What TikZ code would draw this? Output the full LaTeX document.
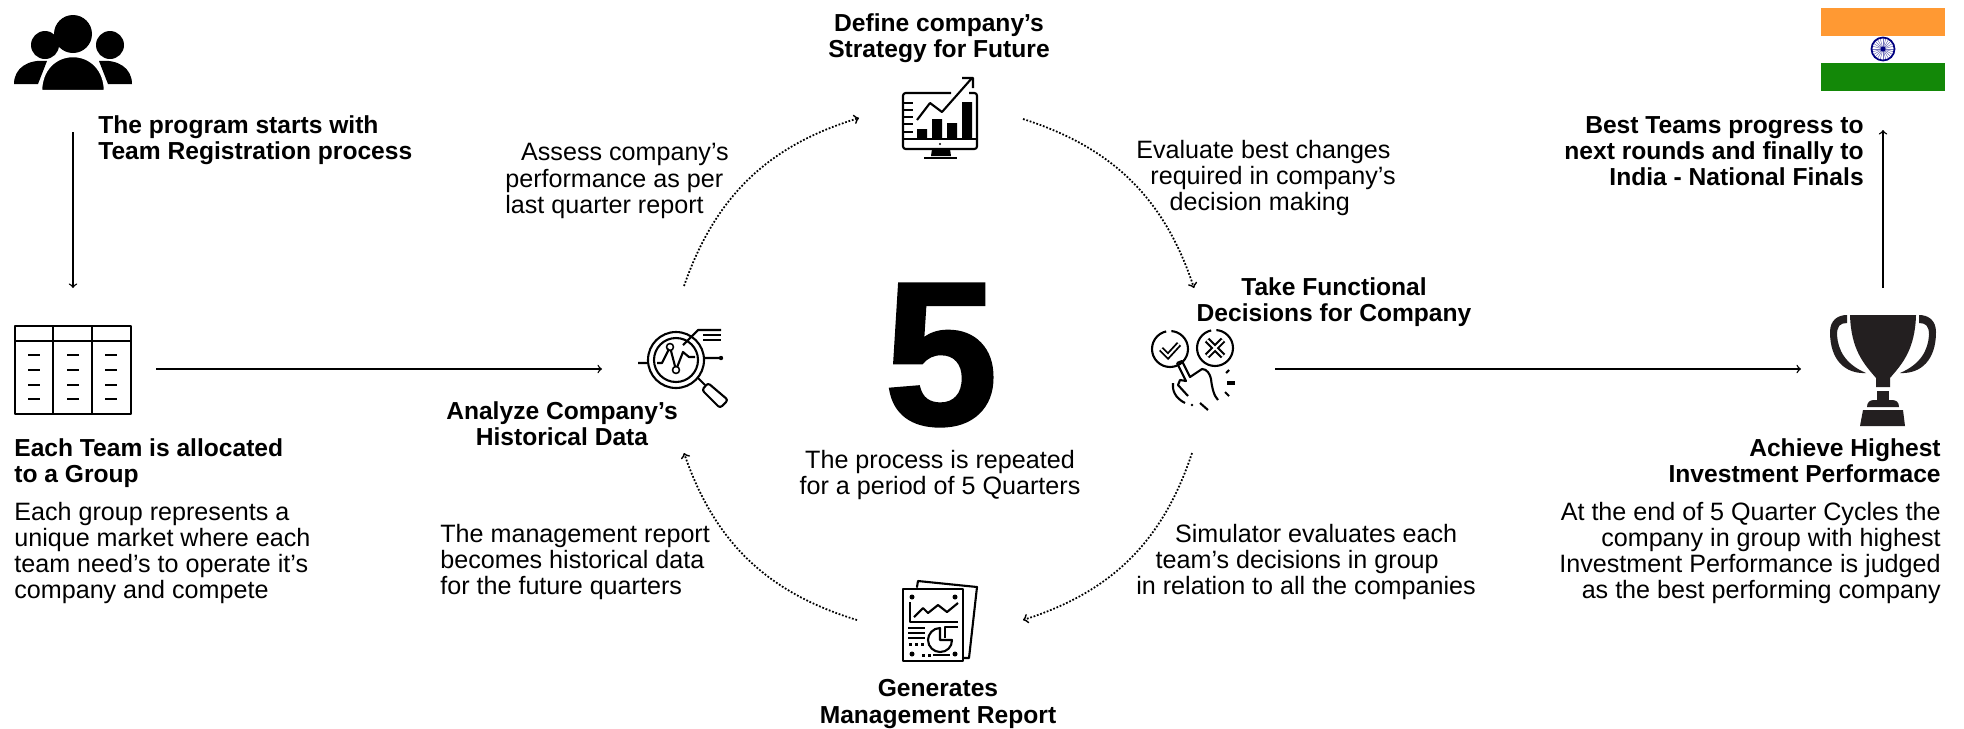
\documentclass[tikz,border=0pt]{standalone}
\usepackage{fontspec}
\setmainfont{Liberation Sans}
\definecolor{saffron}{HTML}{FF9933}
\definecolor{flaggreen}{HTML}{138808}
\definecolor{chakra}{HTML}{000080}
\definecolor{cupblack}{HTML}{231F20}
\tikzset{
  txt/.style={inner sep=0pt,font=\fontsize{14.3}{14.85}\selectfont},
  head/.style={inner sep=0pt,font=\fontsize{14}{14.85}\selectfont\bfseries},
  conn/.style={->,line width=0.8pt},
  cycl/.style={->,line width=1pt,densely dotted},
  ico/.style={line width=1.2pt,line join=round},
  thin ico/.style={line width=0.9pt,line join=round,line cap=round},
}
\begin{document}
\begin{tikzpicture}[x=0.02cm,y=-0.02cm]
\useasboundingbox (0,0) rectangle (1964,728);
% people
\fill (73,34) circle (19);
\fill (45,45) circle (14);
\fill (110,45) circle (14);
\fill (14,84) .. controls (14,68) and (28,59) .. (47,61) -- (38,84) -- cycle;
\fill (132,84) .. controls (132,68) and (118,59) .. (99,61) -- (108,84) -- cycle;
\filldraw[draw=white,line width=1.4pt] (41,91) .. controls (41,70) and (55,56) .. (73,56) .. controls (91,56) and (105,70) .. (105,91) -- cycle;
\coordinate (peoplebot) at (73,132);
\coordinate (tabletop) at (73,288);
\draw[conn] (peoplebot) -- (tabletop);
\node[head,anchor=west,align=left] (regtext) at (98,140) {The program starts with\\Team Registration process};
% table
\draw[ico] (15,326) rectangle (131,414);
\draw[ico] (15,341) -- (131,341) (53,326) -- (53,414) (92,326) -- (92,414);
\foreach \cx in {34,73,111}
  \foreach \cy in {355,370,385,399}
    \draw[ico] (\cx-6,\cy) -- (\cx+6,\cy);
\node[head,anchor=west,align=left] (grouphead) at (14,463) {Each Team is allocated\\to a Group};
\node[txt,anchor=west,align=left] (grouptext) at (14,553) {Each group represents a\\unique market where each\\team need’s to operate it’s\\company and compete};
\coordinate (tableout) at (156,369);
\coordinate (analyzein) at (602,369);
\draw[conn] (tableout) -- (analyzein);
% analyze
\draw[ico] (676,360) circle (28);
\draw[ico] (676,360) circle (22);
\draw[ico] (638,363) -- (648,363) (657,363) -- (662,363) -- (670,347) -- (676,370) -- (683,352) -- (689,357) -- (695,357) (705,358) -- (719,358);
\fill (721,358) circle (2.2);
\fill[white] (671,347) circle (3);
\draw[thin ico] (670,347) circle (3.5);
\filldraw[fill=white,thin ico] (676,370) circle (3.5);
\draw[ico] (683,345) -- (698,330) -- (721,330);
\draw[ico] (703,335) -- (721,335) (703,340) -- (721,340);
\draw[ico] (698,378) -- (705,385);
\draw[ico,rounded corners=1.5pt] (702,390) -- (708,383) -- (728,400) -- (720,408) -- cycle;
\node[head,align=center] (analyze) at (562,424) {Analyze Company’s\\Historical Data};
\node[txt,anchor=west,align=left] (assess) at (505,181) {\hspace*{9pt}Assess company’s\\performance as per\\last quarter report};
% monitor
\draw[ico,rounded corners=1.5pt] (951,93) -- (903,93) -- (903,149) -- (977,149) -- (977,93) -- (969,93);
\draw[ico] (903,139) -- (977,139);
\foreach \ty in {103,110,117,124,132}
  \draw[ico] (903,\ty) -- (913,\ty);
\fill (917,129) rectangle (927,139) (932,119) rectangle (942,139) (947,123) rectangle (957,139) (962,102) rectangle (972,139);
\draw[ico] (917,120) -- (930,103) -- (942,112) -- (972,78) (962,78) -- (973,78) -- (973,88);
\fill (940,144) circle (1.2);
\fill (932,149) -- (950,149) -- (951,156) -- (931,156) -- cycle;
\draw[ico] (924,158) -- (957,158);
\node[head,align=center] (define) at (939,38) {Define company’s\\Strategy for Future};
\node[txt,anchor=west,align=left] (evaluate) at (1136,178) {Evaluate best changes\\\hspace*{8pt}required in company’s\\\hspace*{19pt}decision making};
% decide
\draw[ico,dash pattern=on 46pt off 3pt] (1170,349) circle (18);
\draw[ico,dash pattern=on 46pt off 3pt] (1215,348) circle (18);
\draw[line width=3.2pt,line join=miter] (1161,349) -- (1168,356) -- (1179,344);
\draw[white,line width=1.1pt,line cap=round,line join=miter] (1161,349) -- (1168,356) -- (1179,344);
\draw[line width=3.6pt] (1207,340) -- (1223,356) (1223,340) -- (1207,356);
\draw[white,line width=1.2pt] (1207,340) -- (1223,356) (1223,340) -- (1207,356);
\draw[ico] (1177,363) -- (1182,361) -- (1190,377) -- (1202,369) .. controls (1207,369) and (1210,374) .. (1211,379) .. controls (1212,388) and (1214,396) .. (1218,400);
\draw[ico] (1177,363) -- (1186,381) -- (1180,380) -- (1178,385) -- (1188,396);
\draw[ico] (1173,383) .. controls (1172,390) and (1175,398) .. (1185,403);
\fill (1192,405) circle (1.3);
\draw[ico] (1200,403) -- (1208,410);
\draw[ico] (1229,370) -- (1226,373) (1225,392) -- (1229,396);
\draw[line width=1.8pt] (1227,383) -- (1235,383);
\node[head,align=center] (decide) at (1334,302) {Take Functional\\Decisions for Company};
\coordinate (decideout) at (1275,369);
\coordinate (cupin) at (1801,369);
\draw[conn] (decideout) -- (cupin);
% report
\draw[ico,line cap=round] (917,587) -- (918,581) -- (977,587) -- (969,658) -- (963,658);
\draw[ico] (903,589) rectangle (963,661);
\fill (912,597) circle (2.5) (955,597) circle (2.5) (912,654) circle (2.5) (955,654) circle (2.5);
\draw[ico] (910,602) -- (910,622) -- (958,622);
\draw[ico] (914,617) -- (923,608) -- (928,613) -- (938,605) -- (947,612) -- (958,603);
\draw[ico] (908,628) -- (925,628) (908,633) -- (925,633) (908,638) -- (925,638);
\foreach \dx in {910,916,922}
  \fill (\dx-1.5,642.5) rectangle (\dx+1.5,645.5);
\foreach \dx in {923,929}
  \fill (\dx-1.5,653.5) rectangle (\dx+1.5,656.5);
\draw[ico] (933,655) -- (950,655);
\draw[ico] (940,628) .. controls (933,628) and (928,634) .. (928,640) .. controls (928,647) and (934,652) .. (940,652) .. controls (947,652) and (952,647) .. (952,640) -- (940,640) -- cycle;
\draw[ico] (945,638) -- (945,627) -- (958,627);
\node[head,align=center] (report) at (938,704) {Generates\\Management Report};
\node[txt,anchor=west,align=left] (simtext) at (1136,562) {\hspace*{22pt}Simulator evaluates each\\\hspace*{11pt}team’s decisions in group\\in relation to all the companies};
\node[txt,anchor=west,align=left] (mgmttext) at (440,562) {The management report\\becomes historical data\\for the future quarters};
% cycle
\coordinate (c1a) at (684,286);
\coordinate (c1b) at (859,118);
\coordinate (c2a) at (1023,119);
\coordinate (c2b) at (1194,288);
\coordinate (c3a) at (1192,453);
\coordinate (c3b) at (1023,620);
\coordinate (c4a) at (857,620);
\coordinate (c4b) at (684,453);
\draw[cycl] (c1a) to[bend left=27] (c1b);
\draw[cycl] (c2a) to[bend left=27] (c2b);
\draw[cycl] (c3a) to[bend left=27] (c3b);
\draw[cycl] (c4a) to[bend left=27] (c4b);
% centre
\node[inner sep=0pt,font=\fontsize{116}{116}\selectfont\bfseries\addfontfeature{FakeBold=1.5}] (five) at (941,355) {5};
\node[txt,align=center] (repeat) at (940,475) {The process is repeated\\for a period of 5 Quarters};
% trophy
\fill[cupblack] (1850,315) -- (1916,315) .. controls (1915,350) and (1902,364) .. (1890,378) -- (1890,387) -- (1876,387) -- (1876,378) .. controls (1864,364) and (1851,350) .. (1850,315) -- cycle;
\fill[cupblack] (1877,391) rectangle (1889,400);
\fill[cupblack] (1867,407) .. controls (1867,402) and (1870,400) .. (1874,400) -- (1892,400) .. controls (1896,400) and (1899,402) .. (1899,407) -- cycle;
\fill[cupblack] (1863,410) -- (1903,410) -- (1905,426) -- (1860,426) -- cycle;
\fill[cupblack] (1847,315) -- (1847,323) .. controls (1840,323) and (1837,326) .. (1837,335) .. controls (1838,350) and (1845,364) .. (1866,373) .. controls (1845,374) and (1830,360) .. (1830,332) .. controls (1830,320) and (1838,315) .. (1847,315) -- cycle;
\fill[cupblack] (1919,315) -- (1919,323) .. controls (1926,323) and (1929,326) .. (1929,335) .. controls (1928,350) and (1921,364) .. (1900,373) .. controls (1921,374) and (1936,360) .. (1936,332) .. controls (1936,320) and (1928,315) .. (1919,315) -- cycle;
\node[head,anchor=east,align=right] (achieve) at (1941,461) {Achieve Highest\\Investment Performace};
\node[txt,anchor=east,align=right] (achievetext) at (1941,553) {At the end of 5 Quarter Cycles the\\company in group with highest\\Investment Performance is judged\\as the best performing company};
\coordinate (cuptop) at (1883,288);
\coordinate (flagbot) at (1883,130);
\draw[conn] (cuptop) -- (flagbot);
\node[head,anchor=east,align=right] (finals) at (1864,151) {Best Teams progress to\\next rounds and finally to\\India - National Finals};
% flag
\fill[saffron] (1821,8) rectangle (1945,36);
\fill[flaggreen] (1821,63) rectangle (1945,91);
\foreach \ang in {0,15,...,345}
  \draw[chakra!55,line width=0.3pt] (1883,49) -- ++(\ang:11);
\draw[chakra,line width=1pt] (1883,49) circle (11.5);
\fill[chakra] (1883,49) circle (2.5);
\end{tikzpicture}
\end{document}
